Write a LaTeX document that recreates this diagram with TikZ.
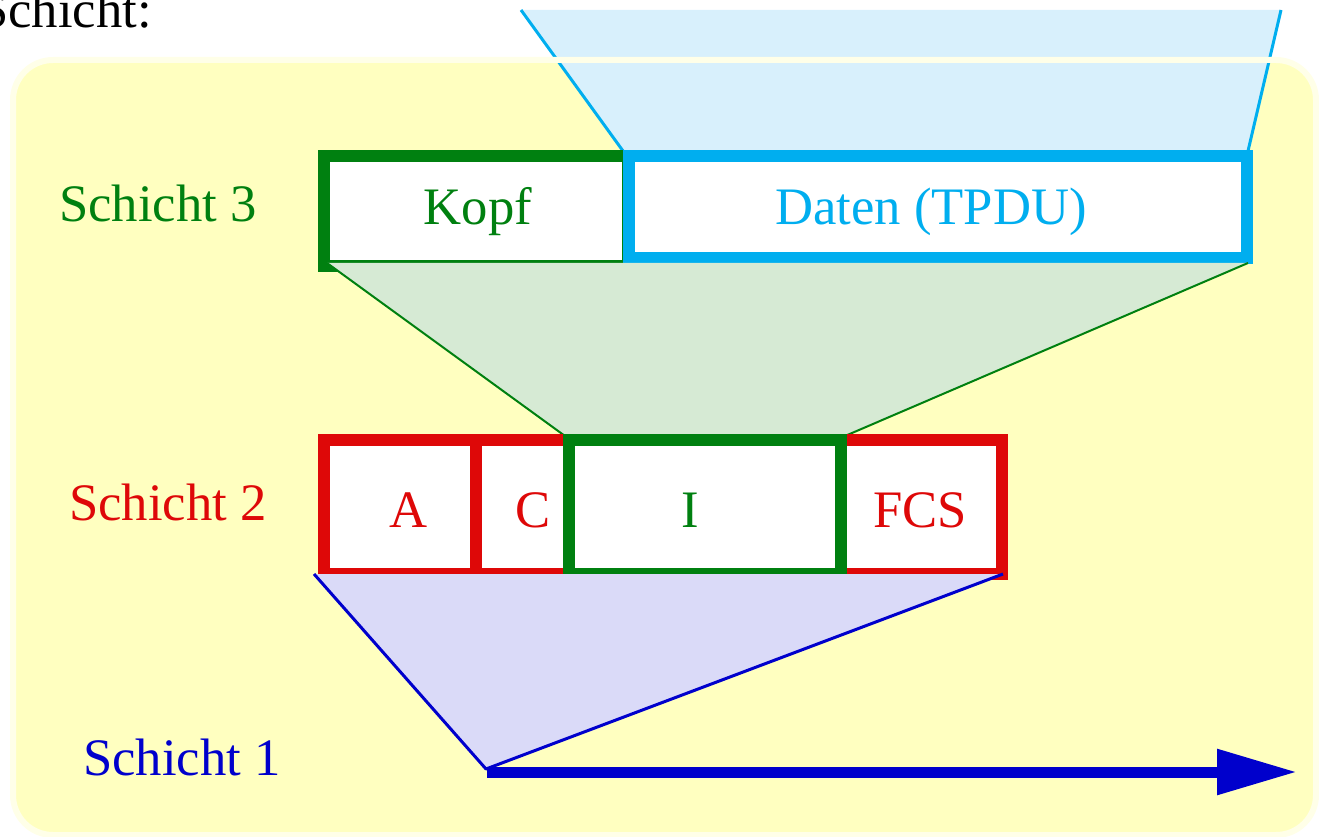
\documentclass[tikz,border=0pt]{standalone}
\usepackage{fontspec}
\setmainfont{Liberation Serif}
\usetikzlibrary{arrows.meta}
\definecolor{lgreen}{RGB}{0,128,16}
\definecolor{lcyan}{RGB}{0,174,239}
\definecolor{lred}{RGB}{222,8,8}
\definecolor{lblue}{RGB}{0,0,204}
\definecolor{bgyellow}{RGB}{255,255,192}
\definecolor{bgrim}{RGB}{255,255,232}
\definecolor{cyanfill}{RGB}{216,240,252}
\definecolor{greenfill}{RGB}{214,234,212}
\definecolor{bluefill}{RGB}{218,218,248}
\begin{document}
\begin{tikzpicture}[x=0.75pt,y=-0.75pt,
  lbl/.style={font=\fontsize{39.5}{40}\selectfont, anchor=base, inner sep=0pt},
  thickbox/.style={line width=9pt, line join=miter, fill=white},
  funnel/.style={line width=2.25pt},
]
\useasboundingbox (0,0) rectangle (1319,837);

% background panel
\fill[bgyellow, rounded corners=30pt] (13,60) rectangle (1316,835);

% layer 3 data funnel (from above)
\coordinate (t1) at (521,10);
\coordinate (t2) at (1281,10);
\coordinate (t3) at (1248,151);
\coordinate (t4) at (623,151);
\fill[cyanfill] (t1) -- (t2) -- (t3) -- (t4) -- cycle;
\draw[lcyan, funnel] (t1) -- (t4) (t2) -- (t3);

% panel rim
\draw[bgrim, line width=4.5pt, rounded corners=30pt] (13,60) rectangle (1316,835);

% layer 3 frame
\draw[lgreen, thickbox] (324,156) rectangle (628,266);
\draw[lcyan, thickbox] (629,156) rectangle (1247,258);

% funnel from layer 3 into the I field
\coordinate (g1) at (327,263);
\coordinate (g2) at (1248,263);
\coordinate (g3) at (845,436);
\coordinate (g4) at (565,436);
\fill[greenfill] (g1) -- (g2) -- (g3) -- (g4) -- cycle;
\draw[lgreen, line width=1.5pt] (g1) -- (g4) (g2) -- (g3);

% layer 2 frame
\draw[lred, thickbox] (324,440) rectangle (476,574);
\draw[lred, thickbox] (476,440) rectangle (569,574);
\draw[lred, thickbox] (841,440) rectangle (1002,574);
\draw[lgreen, thickbox] (569,440) rectangle (841,574);

% funnel from layer 2 onto the line
\coordinate (b1) at (314,574);
\coordinate (b2) at (1003,574);
\coordinate (b3) at (486,769);
\fill[bluefill] (b1) -- (b2) -- (b3) -- cycle;
\draw[lblue, funnel, line join=round] (b1) -- (b3) -- (b2);

% layer 1 bit stream
\coordinate (s0) at (487,772);
\coordinate (s1) at (1297,772);
\draw[lblue, line width=8.25pt, -{Triangle[length=60pt,width=32.5pt]}] (s0) -- (s1);

% labels
\node[lbl, anchor=base east] (title) at (152,28) {Schicht:};
\node[lbl, text=lgreen] (l3) at (158,222) {Schicht 3};
\node[lbl, text=lred] (l2) at (168,520) {Schicht 2};
\node[lbl, text=lblue] (l1) at (182,775) {Schicht 1};
\node[lbl, text=lgreen] (kopf) at (478,225) {Kopf};
\node[lbl, text=lcyan] (daten) at (931,225) {Daten (TPDU)};
\node[lbl, text=lred] (fa) at (409,527) {A};
\node[lbl, text=lred] (fc) at (533,527) {C};
\node[lbl, text=lgreen] (fi) at (690,527) {I};
\node[lbl, text=lred] (ffcs) at (920,527) {FCS};
\end{tikzpicture}
\end{document}
